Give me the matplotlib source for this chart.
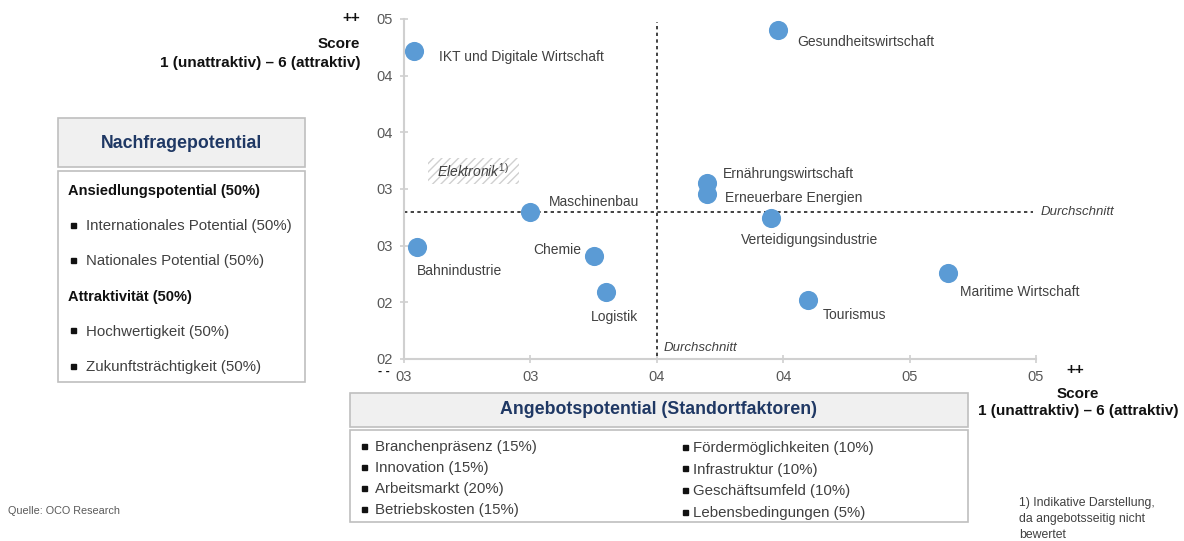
import matplotlib.pyplot as plt
from matplotlib.lines import Line2D
from matplotlib.patches import Rectangle

plt.rcParams["font.family"] = ["Liberation Sans", "DejaVu Sans"]
plt.rcParams["mathtext.fontset"] = "custom"
plt.rcParams["mathtext.rm"] = "Liberation Sans"
plt.rcParams["mathtext.it"] = "Liberation Sans:italic"

W, H = 1184, 541

# Branchen: Angebotspotential (x) und Nachfragepotential (y)
branchen = [
    "IKT und Digitale Wirtschaft", "Gesundheitswirtschaft", "Ernährungswirtschaft",
    "Erneuerbare Energien", "Maschinenbau", "Verteidigungsindustrie", "Bahnindustrie",
    "Chemie", "Logistik", "Maritime Wirtschaft", "Tourismus",
]
angebot = [2.54, 3.98, 3.70, 3.70, 3.00, 3.95, 2.55, 3.25, 3.30, 4.65, 4.10]
nachfrage = [4.22, 4.40, 3.05, 2.96, 2.80, 2.74, 2.49, 2.41, 2.09, 2.26, 2.02]

avg_x = 3.5
avg_y = 2.8
elektronik_x = [2.595, 2.955]
elektronik_y = [3.045, 3.274]

x_ticks = [2.5, 3.0, 3.5, 4.0, 4.5, 5.0]
x_labels = ["03", "03", "04", "04", "05", "05"]
y_ticks = [1.5, 2.0, 2.5, 3.0, 3.5, 4.0, 4.5]
y_labels = ["02", "02", "03", "03", "04", "04", "05"]

nachfrage_items = [
    ("Ansiedlungspotential (50%)", True),
    ("Internationales Potential (50%)", False),
    ("Nationales Potential (50%)", False),
    ("Attraktivität (50%)", True),
    ("Hochwertigkeit (50%)", False),
    ("Zukunftsträchtigkeit (50%)", False),
]
angebot_links = ["Branchenpräsenz (15%)", "Innovation (15%)", "Arbeitsmarkt (20%)", "Betriebskosten (15%)"]
angebot_rechts = ["Fördermöglichkeiten (10%)", "Infrastruktur (10%)", "Geschäftsumfeld (10%)",
                  "Lebensbedingungen (5%)"]

# label placement: (dx, dy) in pixels, horizontal alignment
label_pos = {
    "IKT und Digitale Wirtschaft": (25, -6, "left"),
    "Gesundheitswirtschaft": (19, -12, "left"),
    "Ernährungswirtschaft": (16, 9, "left"),
    "Erneuerbare Energien": (18, -4, "left"),
    "Maschinenbau": (18, 10, "left"),
    "Verteidigungsindustrie": (-30, -22, "left"),
    "Bahnindustrie": (0, -24, "left"),
    "Chemie": (-12, 6, "right"),
    "Logistik": (8, -25, "center"),
    "Maritime Wirtschaft": (12, -19, "left"),
    "Tourismus": (14, -15, "left"),
}

TEXT = "#404040"
NAVY = "#1F3864"
BLUE = "#5B9BD5"


def fx(x):
    return x / W


def fy(y):
    return 1 - y / H


def box(fig, x0, y0, x1, y1, fill):
    fig.patches.append(Rectangle((fx(x0), fy(y1)), fx(x1) - fx(x0), fy(y0) - fy(y1),
                                 transform=fig.transFigure, facecolor=fill,
                                 edgecolor="#BFBFBF", linewidth=1.2))


def bullet(fig, x, y):
    # small black square, nudged up to sit on the x-height middle
    fig.add_artist(Line2D([fx(x)], [fy(y - 1.5)], marker="s", markersize=3.6, color="#111111",
                          linestyle="none", transform=fig.transFigure))


def main() -> None:
    fig = plt.figure(figsize=(W / 100, H / 100), dpi=100)
    ax = fig.add_axes([fx(404), fy(359), fx(1036) - fx(404), fy(19) - fy(359)])

    ax.set_xlim(x_ticks[0], x_ticks[-1])
    ax.set_ylim(y_ticks[0], y_ticks[-1])
    ax.set_xticks(x_ticks)
    ax.set_xticklabels(x_labels)
    ax.set_yticks(y_ticks)
    ax.set_yticklabels(y_labels)
    for s in ["top", "right"]:
        ax.spines[s].set_visible(False)
    for s in ["left", "bottom"]:
        ax.spines[s].set_color("#D0D0D0")
        ax.spines[s].set_linewidth(1.5)
    ax.tick_params(direction="inout", length=6, width=1.2, color="#D0D0D0",
                   labelsize=10.5, labelcolor="#595959", pad=5)

    ax.axvline(avg_x, ymin=0.01, ymax=0.99, color="#222222", linestyle=(0, (2, 2)), linewidth=1.2)
    ax.axhline(avg_y, xmin=0, xmax=0.995, color="#222222", linestyle=(0, (2, 2)), linewidth=1.2)
    ax.text(avg_x + 0.025, 1.6, "Durchschnitt", style="italic", fontsize=9.5, color=TEXT,
            ha="left", va="center")
    ax.text(5.02, avg_y, "Durchschnitt", style="italic", fontsize=9.5, color=TEXT,
            ha="left", va="center", clip_on=False)

    ax.add_patch(Rectangle((elektronik_x[0], elektronik_y[0]),
                           elektronik_x[1] - elektronik_x[0], elektronik_y[1] - elektronik_y[0],
                           facecolor="white", edgecolor="#D0D0D0", hatch="////", linewidth=0))
    ax.text(sum(elektronik_x) / 2, sum(elektronik_y) / 2, r"$\it{Elektronik}^{1)}$",
            fontsize=10, color=TEXT, ha="center", va="center")

    ax.scatter(angebot, nachfrage, s=190, color=BLUE, zorder=3, linewidths=0)
    for name, x, y in zip(branchen, angebot, nachfrage):
        dx, dy, ha = label_pos[name]
        ax.annotate(name, (x, y), xytext=(dx, dy), textcoords="offset pixels",
                    ha=ha, va="center", fontsize=10, color=TEXT)

    # axis titles
    bold = dict(fontweight="bold", fontsize=11, color="#111111")
    fig.text(fx(360), fy(18), "++", ha="right", va="center", **bold)
    fig.text(fx(360), fy(44), "Score", ha="right", va="center", **bold)
    fig.text(fx(360), fy(63), "1 (unattraktiv) – 6 (attraktiv)", ha="right", va="center", **bold)
    fig.text(fx(1075), fy(370), "++", ha="center", va="center", **bold)
    fig.text(fx(1078), fy(394), "Score", ha="center", va="center", **bold)
    fig.text(fx(1078), fy(411), "1 (unattraktiv) – 6 (attraktiv)", ha="center", va="center", **bold)
    fig.text(fx(384), fy(372), "- -", ha="center", va="center", fontweight="bold",
             fontsize=9, color="#111111")

    # Nachfragepotential panel
    box(fig, 58, 118, 305, 167, "#F0F0F0")
    box(fig, 58, 171, 305, 382, "white")
    fig.text(fx(182), fy(143), "Nachfragepotential", ha="center", va="center",
             fontweight="bold", fontsize=12.8, color=NAVY)
    for i, (item, is_head) in enumerate(nachfrage_items):
        yy = 191 + i * 35.2
        if is_head:
            fig.text(fx(68), fy(yy), item, ha="left", va="center", fontweight="bold",
                     fontsize=10.5, color="#111111")
        else:
            bullet(fig, 73, yy)
            fig.text(fx(86), fy(yy), item, ha="left", va="center", fontsize=10.8, color=TEXT)

    # Angebotspotential panel
    box(fig, 350, 393, 968, 427, "#F0F0F0")
    box(fig, 350, 430, 968, 522, "white")
    fig.text(fx(659), fy(410), "Angebotspotential (Standortfaktoren)", ha="center", va="center",
             fontweight="bold", fontsize=12.8, color=NAVY)
    for i, item in enumerate(angebot_links):
        yy = 447 + i * 21
        bullet(fig, 364, yy)
        fig.text(fx(375), fy(yy), item, ha="left", va="center", fontsize=10.8, color=TEXT)
    for i, item in enumerate(angebot_rechts):
        yy = 448 + i * 21.7
        bullet(fig, 685, yy)
        fig.text(fx(693), fy(yy), item, ha="left", va="center", fontsize=10.8, color=TEXT)

    fig.text(fx(8), fy(511), "Quelle: OCO Research", ha="left", va="center", fontsize=7.8,
             color="#595959")
    fig.text(fx(1019), fy(497), "1) Indikative Darstellung,\nda angebotsseitig nicht\nbewertet",
             ha="left", va="top", fontsize=8.8, color=TEXT, linespacing=1.45)

    fig.savefig("out.png", dpi=100)
    plt.close(fig)


if __name__ == "__main__":
    main()
